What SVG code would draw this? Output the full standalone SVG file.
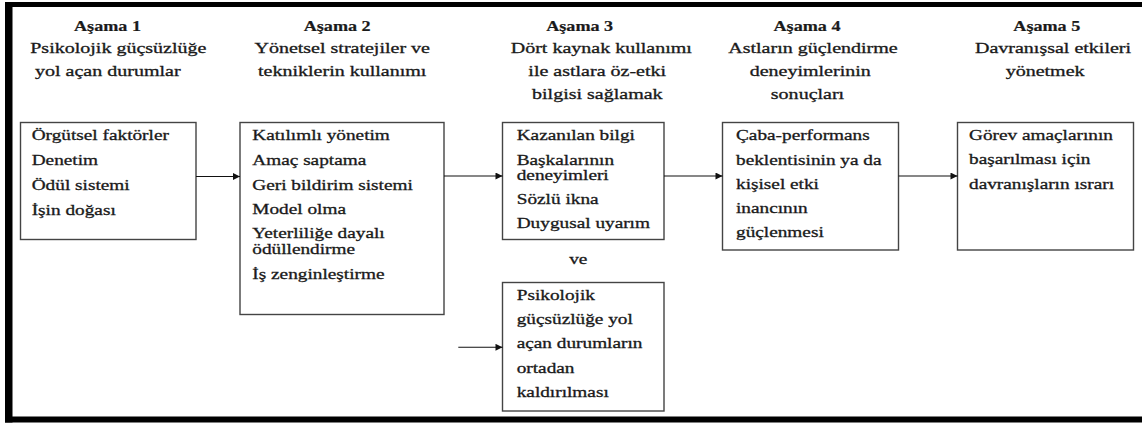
<svg xmlns="http://www.w3.org/2000/svg" width="1142" height="423" viewBox="0 0 1142 423" font-family="'Liberation Serif', 'DejaVu Serif', serif">
<style>
text{font-family:'Liberation Serif','DejaVu Serif',serif;font-size:14.5px;fill:#1a1a1a;stroke:#1a1a1a;stroke-width:0.3}
.h{font-weight:bold;stroke-width:0.2}
.c{text-anchor:middle}
.box{fill:none;stroke:#444;stroke-width:1.4}
.con{stroke:#111;stroke-width:1.1;fill:none}
</style>
<defs>
<marker id="ah" viewBox="0 0 10 10" refX="10" refY="5" markerWidth="9" markerHeight="7" markerUnits="userSpaceOnUse" orient="auto">
<path d="M0,0 L10,5 L0,10 Z" fill="#111"/>
</marker>
</defs>
<rect x="0" y="0" width="1142" height="423" fill="#fff"/>
<g id="frame" fill="#000">
<rect x="5" y="2" width="1137" height="5"/>
<rect x="5" y="2" width="7.5" height="420.5"/>
<rect x="5" y="416.5" width="1137" height="6"/>
</g>
<g id="headers">
<g id="stage1">
<text class="h c" transform="translate(107.5,31) scale(1.25,1)">Aşama 1</text>
<text class="c" transform="translate(118.3,53) scale(1.38,1)">Psikolojik güçsüzlüğe</text>
<text class="c" transform="translate(107.8,76) scale(1.38,1)">yol açan durumlar</text>
</g>
<g id="stage2">
<text class="h c" transform="translate(337.2,31) scale(1.25,1)">Aşama 2</text>
<text class="c" transform="translate(342.2,53) scale(1.38,1)">Yönetsel stratejiler ve</text>
<text class="c" transform="translate(342.2,76) scale(1.38,1)">tekniklerin kullanımı</text>
</g>
<g id="stage3">
<text class="h c" transform="translate(579.7,31) scale(1.25,1)">Aşama 3</text>
<text class="c" transform="translate(601.3,53) scale(1.38,1)">Dört kaynak kullanımı</text>
<text class="c" transform="translate(597.2,76) scale(1.38,1)">ile astlara öz-etki</text>
<text class="c" transform="translate(597.3,99) scale(1.38,1)">bilgisi sağlamak</text>
</g>
<g id="stage4">
<text class="h c" transform="translate(807,31) scale(1.25,1)">Aşama 4</text>
<text class="c" transform="translate(813,53) scale(1.38,1)">Astların güçlendirme</text>
<text class="c" transform="translate(810.2,76) scale(1.38,1)">deneyimlerinin</text>
<text class="c" transform="translate(807.5,99) scale(1.38,1)">sonuçları</text>
</g>
<g id="stage5">
<text class="h c" transform="translate(1046.8,31) scale(1.25,1)">Aşama 5</text>
<text class="c" transform="translate(1053,53) scale(1.38,1)">Davranışsal etkileri</text>
<text class="c" transform="translate(1045.1,76) scale(1.38,1)">yönetmek</text>
</g>
</g>
<g id="box1">
<rect class="box" x="20.5" y="122.5" width="175.5" height="117"/>
<g transform="translate(31.7,0) scale(1.33,1)">
<text y="140.5">Örgütsel faktörler</text>
<text y="165.5">Denetim</text>
<text y="190.5">Ödül sistemi</text>
<text y="215">İşin doğası</text>
</g>
</g>
<g id="box2">
<rect class="box" x="240" y="122.5" width="204" height="192"/>
<g transform="translate(252.3,0) scale(1.33,1)">
<text y="140.5">Katılımlı yönetim</text>
<text y="165.5">Amaç saptama</text>
<text y="190.5">Geri bildirim sistemi</text>
<text y="214.5">Model olma</text>
<text y="238.5">Yeterliliğe dayalı</text>
<text y="254">ödüllendirme</text>
<text y="279">İş zenginleştirme</text>
</g>
</g>
<g id="box3">
<rect class="box" x="502.5" y="122.5" width="161.5" height="117"/>
<g transform="translate(516.7,0) scale(1.33,1)">
<text y="140.5">Kazanılan bilgi</text>
<text y="165">Başkalarının</text>
<text y="180">deneyimleri</text>
<text y="204.5">Sözlü ikna</text>
<text y="228.5">Duygusal uyarım</text>
</g>
</g>
<g id="ve">
<text class="c" transform="translate(578.3,264) scale(1.33,1)">ve</text>
</g>
<g id="box6">
<rect class="box" x="502.5" y="282.5" width="161.5" height="128.5"/>
<g transform="translate(516.7,0) scale(1.33,1)">
<text y="300.5">Psikolojik</text>
<text y="324.5">güçsüzlüğe yol</text>
<text y="348.5">açan durumların</text>
<text y="373">ortadan</text>
<text y="397">kaldırılması</text>
</g>
</g>
<g id="box4">
<rect class="box" x="722.5" y="122.5" width="176" height="127.5"/>
<g transform="translate(736,0) scale(1.33,1)">
<text y="140.5">Çaba-performans</text>
<text y="165">beklentisinin ya da</text>
<text y="189.5">kişisel etki</text>
<text y="213.5">inancının</text>
<text y="237.5">güçlenmesi</text>
</g>
</g>
<g id="box5">
<rect class="box" x="957.5" y="122.5" width="176" height="127.5"/>
<g transform="translate(969,0) scale(1.33,1)">
<text y="140">Görev amaçlarının</text>
<text y="164.5">başarılması için</text>
<text y="189.5">davranışların ısrarı</text>
</g>
</g>
<g id="connectors">
<path class="con" d="M196,176.5 H240" marker-end="url(#ah)"/>
<path class="con" d="M444,176 H502.5" marker-end="url(#ah)"/>
<path class="con" d="M664,176 H722.5" marker-end="url(#ah)"/>
<path class="con" d="M898.5,176 H957.5" marker-end="url(#ah)"/>
<path class="con" d="M458.3,347.3 H502.5" marker-end="url(#ah)"/>
</g>
</svg>
